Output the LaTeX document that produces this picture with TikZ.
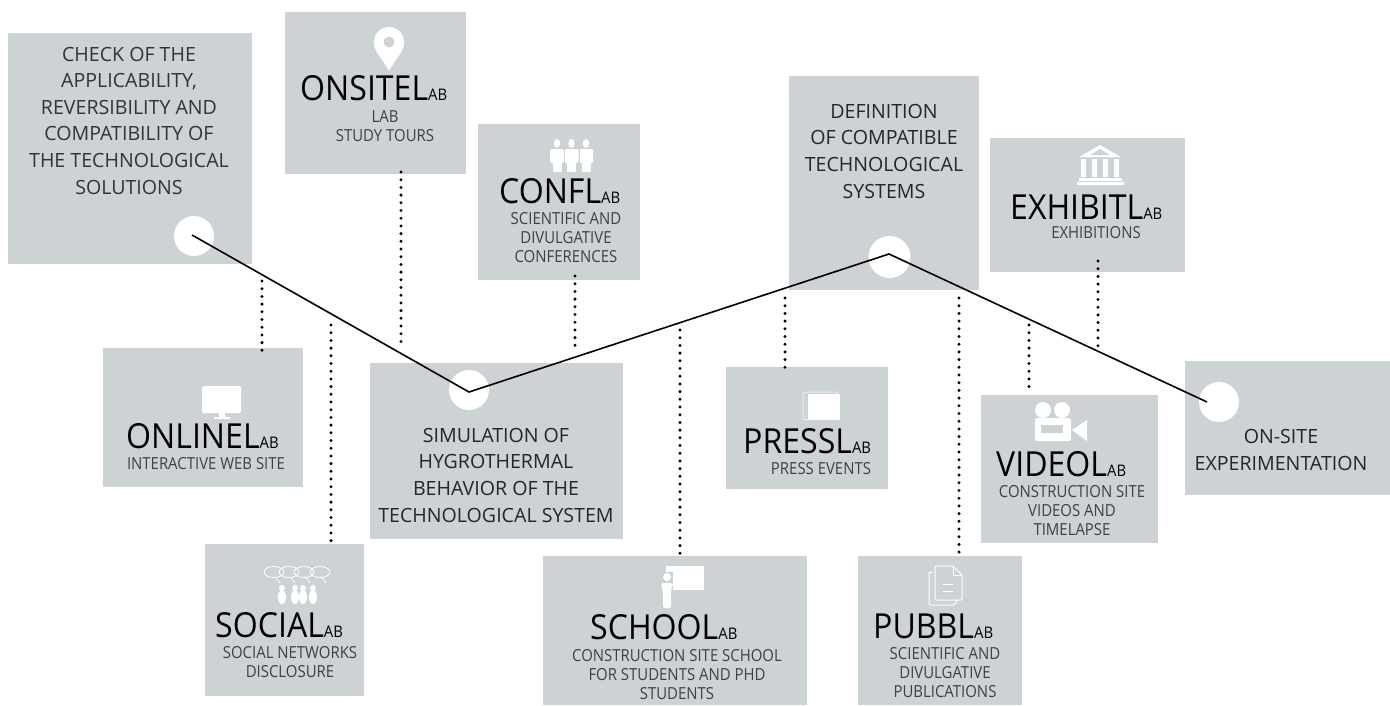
\documentclass[tikz,border=0pt]{standalone}
\usepackage{fontspec}
\setmainfont{Open Sans}
\newfontfamily\headfont[FakeStretch=0.93]{Open Sans}
\newfontfamily\subfont[FakeStretch=0.9]{Open Sans}
\definecolor{boxgray}{RGB}{205,210,212}
\definecolor{subgray}{RGB}{62,64,68}
\definecolor{maingray}{RGB}{50,52,55}
\tikzset{
 x=1pt,y=-1pt,
 panel/.style={fill=boxgray,draw=none,inner sep=0,outer sep=0,anchor=north west},
 spot/.style={circle,fill=white,draw=none,minimum size=40pt,inner sep=0},
 headtext/.style={anchor=base west,inner sep=0,text=black},
 subtext/.style={anchor=base,inner sep=0,align=center,text=subgray,font=\subfont\fontsize{16.6}{19}\selectfont},
 maintext/.style={anchor=base,inner sep=0,align=center,text=maingray,font=\fontsize{19.6}{26.6}\selectfont},
 trend/.style={draw=black,line width=1.6pt},
 dots/.style={draw=black,line width=3.3pt,line cap=round,dash pattern=on 0pt off 7.7pt},
 iconfill/.style={fill=white,draw=none},
 iconline/.style={draw=white,line width=1pt,fill=none}
}
\newcommand{\hd}[1]{{\headfont\fontsize{34.5}{34}\selectfont #1}{\headfont\fontsize{16}{16}\selectfont AB}}
\begin{document}
\begin{tikzpicture}
\useasboundingbox (0,0) rectangle (1390,705);
\fill[white] (0,0) rectangle (1390,705);
% panels
\node[panel,minimum width=244pt,minimum height=231pt] (check) at (8,33) {};
\node[panel,minimum width=181pt,minimum height=162pt] (onsite) at (285,12) {};
\node[panel,minimum width=162pt,minimum height=156pt] (confl) at (478,124) {};
\node[panel,minimum width=190pt,minimum height=214pt] (defn) at (789,76) {};
\node[panel,minimum width=195pt,minimum height=134pt] (exhibit) at (990,138) {};
\node[panel,minimum width=200pt,minimum height=139pt] (online) at (103,348) {};
\node[panel,minimum width=159pt,minimum height=152pt] (social) at (205,544) {};
\node[panel,minimum width=253pt,minimum height=176pt] (simul) at (370,363) {};
\node[panel,minimum width=264pt,minimum height=149pt] (school) at (543,556) {};
\node[panel,minimum width=162pt,minimum height=122pt] (press) at (726,367) {};
\node[panel,minimum width=177pt,minimum height=148pt] (video) at (981,395) {};
\node[panel,minimum width=164pt,minimum height=149pt] (pubbl) at (858,556) {};
\node[panel,minimum width=205pt,minimum height=134pt] (experim) at (1185,361) {};
% spots
\node[spot] (s1) at (194,236) {};
\node[spot] (s2) at (469,390) {};
\node[spot,minimum width=41pt,minimum height=42pt] (s3) at (889.5,257) {};
\node[spot] (s4) at (1219,402) {};
% connector ends
\coordinate (v1) at (192,235);
\coordinate (v2) at (469,392);
\coordinate (v3) at (889,254);
\coordinate (v4) at (1207,402);
\coordinate (a1) at (262,281); \coordinate (b1) at (262,351);
\coordinate (a2) at (331,325); \coordinate (b2) at (331,546);
\coordinate (a3) at (401,172); \coordinate (b3) at (401,346);
\coordinate (a4) at (575,276); \coordinate (b4) at (575,352);
\coordinate (a5) at (680,330); \coordinate (b5) at (680,558);
\coordinate (a6) at (785,298); \coordinate (b6) at (785,372);
\coordinate (a7) at (959,298); \coordinate (b7) at (959,555);
\coordinate (a8) at (1029,325); \coordinate (b8) at (1029,394);
\coordinate (a9) at (1098,261); \coordinate (b9) at (1098,352);
\foreach \i in {1,...,9} {\draw[dots] (a\i) -- (b\i);}
\draw[trend] (v1) -- (v2) -- (v3) -- (v4);
% main texts (anchor is the baseline of the last line)
\node[maintext] (tcheck) at (129,194) {CHECK OF THE\\APPLICABILITY,\\REVERSIBILITY AND\\COMPATIBILITY OF\\THE TECHNOLOGICAL\\SOLUTIONS};
\node[maintext,text=black!85] (tdefn) at (884,198) {DEFINITION\\OF COMPATIBLE\\TECHNOLOGICAL\\SYSTEMS};
\node[maintext,text=black!85] (tsimul) at (496,522) {SIMULATION OF\\HYGROTHERMAL\\BEHAVIOR OF THE\\TECHNOLOGICAL SYSTEM};
\node[maintext,text=black!85] (texp) at (1281,470) {ON-SITE\\EXPERIMENTATION};
% headings
\node[headtext] (honsite) at (300,100.7) {\hd{ONSITEL}};
\node[headtext] (honline) at (126,448) {\hd{ONLINEL}};
\node[headtext] (hsocial) at (215,637) {\hd{SOCIAL}};
\node[headtext] (hconfl) at (499,203) {\hd{CONFL}};
\node[headtext] (hexhibit) at (1010,219) {\hd{EXHIBITL}};
\node[headtext] (hschool) at (590,639) {\hd{SCHOOL}};
\node[headtext] (hpress) at (743,453) {\hd{PRESSL}};
\node[headtext] (hvideo) at (996,476) {\hd{VIDEOL}};
\node[headtext] (hpubbl) at (873,638) {\hd{PUBBL}};
% sub texts (anchor is the baseline of the last line)
\node[subtext] (sonsite) at (385,141.7) {LAB\\STUDY TOURS};
\node[subtext] (sonline) at (206,469) {INTERACTIVE WEB SITE};
\node[subtext] (ssocial) at (290,677) {SOCIAL NETWORKS\\DISCLOSURE};
\node[subtext] (sconfl) at (566,262) {SCIENTIFIC AND\\DIVULGATIVE\\CONFERENCES};
\node[subtext] (sexhibit) at (1096,238) {EXHIBITIONS};
\node[subtext] (sschool) at (677,699) {CONSTRUCTION SITE SCHOOL\\FOR STUDENTS AND PHD\\STUDENTS};
\node[subtext] (spress) at (821,474) {PRESS EVENTS};
\node[subtext] (svideo) at (1072,535) {CONSTRUCTION SITE\\VIDEOS AND\\TIMELAPSE};
\node[subtext] (spubbl) at (945,697) {SCIENTIFIC AND\\DIVULGATIVE\\PUBLICATIONS};
% pin
\fill[iconfill] (389,71) .. controls (382,58) and (374,52) .. (374,42) arc[start angle=180,end angle=360,radius=15] .. controls (404,52) and (396,58) .. (389,71) -- cycle;
\fill[boxgray] (389,42) circle[radius=5.5];
% monitor
\fill[iconfill,rounded corners=1.5pt] (202,386) rectangle (241,413);
\fill[iconfill] (219,413) rectangle (225,417);
\fill[iconfill] (214,417) rectangle (230,419);
% people (conference)
\foreach \cx in {557,571.5,586} {
 \fill[iconfill] (\cx,143.5) ellipse[x radius=3.2,y radius=4.5];
 \fill[iconfill,rounded corners=1.5pt] (\cx-7,149) rectangle (\cx+7,163);
 \fill[iconfill] (\cx-4.5,160) rectangle (\cx+4.5,172);
}
\foreach \cx in {564,579} {\draw[boxgray,line width=.4pt] (\cx,150) -- (\cx,172);}
% temple
\fill[iconfill] (1100,145) -- (1121,157) -- (1079,157) -- cycle;
\fill[boxgray] (1100,149) -- (1110,155) -- (1090,155) -- cycle;
\foreach \cx in {1081,1092,1103,1114} {\fill[iconfill] (\cx,159) rectangle (\cx+5,177);}
\fill[iconfill] (1079,178) rectangle (1122,180.5);
\fill[iconfill] (1077,182) rectangle (1124,185);
% press
\draw[white,opacity=.6,line width=1pt,rounded corners=2pt] (803,392) rectangle (838,419.5);
\fill[iconfill] (808,394) rectangle (840,420);
% camera
\fill[iconfill] (1043,410) circle[radius=8];
\fill[iconfill] (1062,410) circle[radius=8];
\fill[iconfill,rounded corners=2pt] (1035,418) rectangle (1071,441);
\fill[boxgray] (1041,425) rectangle (1063,433);
\fill[iconfill] (1072,430) -- (1087,420) -- (1087,441) -- cycle;
% teacher and board
\fill[iconfill] (666,566) rectangle (704,590);
\fill[boxgray] (659,572) rectangle (666,610);
\fill[boxgray] (666,572) -- (673,572) -- (673,590) -- (666,590) -- cycle;
\fill[iconfill] (667,577) circle[radius=4];
\fill[iconfill,rounded corners=1.5pt] (661,583) -- (672,583) -- (671,594) -- (671,608) -- (663,608) -- (663,594) -- cycle;
\draw[white,line width=1.6pt,line cap=round] (670,585) -- (677,583) -- (678,573);
% document
\draw[iconline,rounded corners=2pt] (933,572) -- (929,572) -- (929,605) -- (955,605) -- (957,600);
\draw[iconline,rounded corners=1pt] (935,566) -- (953,566) -- (962,575) -- (962,600) -- (935,600) -- cycle;
\draw[iconline] (953,566) -- (953,575) -- (962,575);
\draw[iconline] (943,584) -- (953,584) (943,591) -- (953,591);
% social
\foreach \cx in {274,289,304,320} {
 \draw[white,line width=.8pt] (\cx,572) ellipse[x radius=10,y radius=5.5];
 \draw[white,line width=.8pt] (\cx+2,577.5) -- (\cx+6,583);
}
\foreach \cx in {282,295,303,313} {
 \fill[iconfill] (\cx,588) circle[radius=3];
 \fill[iconfill] (\cx,597) ellipse[x radius=4,y radius=7];
}
\end{tikzpicture}
\end{document}
